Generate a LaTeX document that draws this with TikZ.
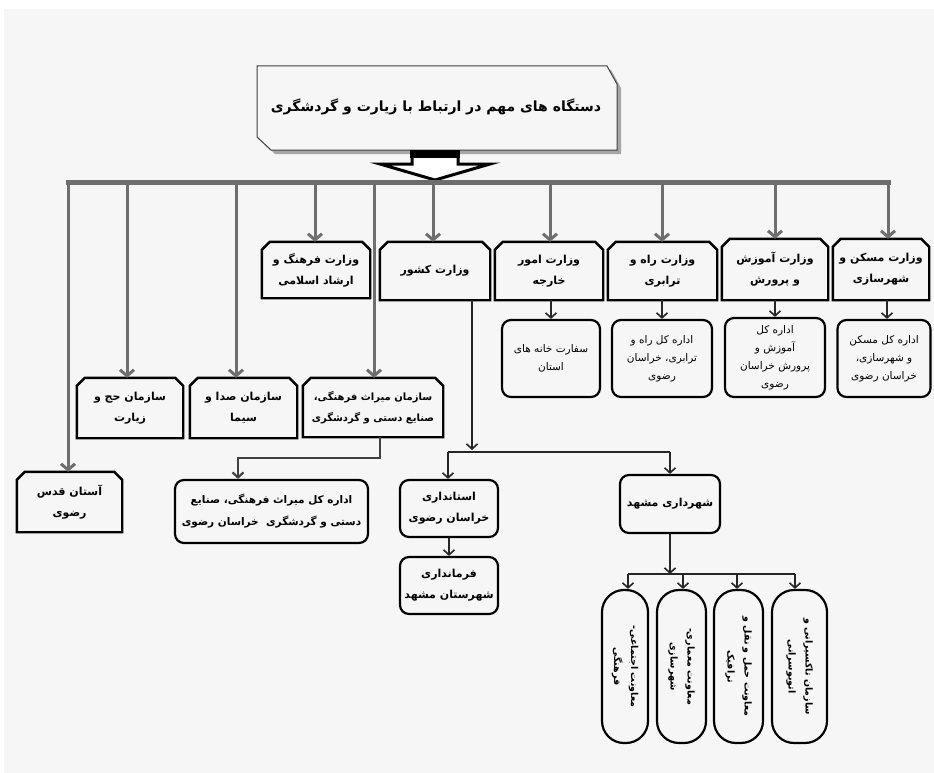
\documentclass[tikz,border=0pt]{standalone}
\usepackage{fontspec}
\newfontfamily\fafont[Script=Arabic]{DejaVu Sans}
\TeXXeTstate=1
\usetikzlibrary{arrows.meta,calc}
\newcommand\faR[1]{\beginR #1\endR}
\definecolor{bgc}{HTML}{F6F6F6}
\definecolor{linegray}{HTML}{6E6E6E}
\begin{document}
\begin{tikzpicture}[x=1pt,y=-1pt,
  bus/.style={draw=linegray, line width=5pt, line cap=rect},
  drop/.style={draw=linegray, line width=3pt, -{Straight Barb[length=6pt,width=14pt]}},
  link/.style={draw=black!85, line width=1.6pt, -{Straight Barb[length=5pt,width=11pt]}},
  plain/.style={draw=black!85, line width=1.6pt},
  btxt/.style={align=center, inner sep=0pt, font=\fafont\bfseries\fontsize{11}{21}\selectfont},
  rtxt/.style={align=center, inner sep=0pt, font=\fafont\fontsize{10.5}{18}\selectfont},
  chline/.style={draw=black, line width=2.4pt, line join=miter},
  rbox/.style={draw=black, line width=2.2pt, rounded corners=9pt},
  pill/.style={draw=black, line width=2.2pt, rounded corners=22pt, align=center, inner sep=0pt,
     font=\fafont\bfseries\fontsize{9.5}{17}\selectfont},
]
\fill[white] (0,0) rectangle (934,773);
\fill[bgc] (4,9) rectangle (934,773);
\path[use as bounding box] (0,0) rectangle (934,773);

% title shape
\fill[black!35] (261,70) -- (611,70) -- (621,88) -- (621,154) -- (275,154) -- (261,141) -- cycle;
\draw[fill=bgc, draw=black!75, line width=1pt] (257,66) -- (607,66) -- (617,84) -- (617,150) -- (271,150) -- (257,137) -- cycle;
\node[align=center, inner sep=0pt, font=\fafont\bfseries\fontsize{14}{20}\selectfont] (title) at (436,107)
  {\faR{دستگاه های مهم در ارتباط با زیارت و گردشگری}};

% block arrow
\draw[fill=white, draw=black, line width=3pt, line join=miter]
  (412,152) -- (412,164) -- (380,164) -- (435,180) -- (490,164) -- (458,164) -- (458,152) -- cycle;
\fill[black] (410,150) rectangle (460,158);

% ministries
\node[btxt, minimum width=108, minimum height=56] (farhang) at (316,270) {\faR{وزارت فرهنگ و}\\ \faR{ارشاد اسلامی}};
\node[btxt, minimum width=110, minimum height=58] (keshvar) at (435,271) {\faR{وزارت کشور}};
\node[btxt, minimum width=108, minimum height=58] (omur) at (549,271) {\faR{وزارت امور}\\ \faR{خارجه}};
\node[btxt, minimum width=109, minimum height=58] (rah) at (662.5,271) {\faR{وزارت راه و}\\ \faR{ترابری}};
\node[btxt, minimum width=106, minimum height=61] (amuzesh) at (775,269.5) {\faR{وزارت آموزش}\\ \faR{و پرورش}};
\node[btxt, minimum width=96, minimum height=61] (maskan) at (881,269.5) {\faR{وزارت مسکن و}\\ \faR{شهرسازی}};

% second row
\node[rtxt, rbox, minimum width=98, minimum height=77] (sefarat) at (551,358.5) {\faR{سفارت خانه های}\\ \faR{استان}};
\node[rtxt, rbox, minimum width=100, minimum height=77] (edrah) at (662,358.5) {\faR{اداره کل راه و}\\ \faR{ترابری، خراسان}\\ \faR{رضوی}};
\node[rtxt, rbox, minimum width=100, minimum height=79] (edamuz) at (775,357.5) {\faR{اداره کل}\\ \faR{آموزش و}\\ \faR{پرورش خراسان}\\ \faR{رضوی}};
\node[rtxt, rbox, minimum width=93, minimum height=77] (edmaskan) at (884,358.5) {\faR{اداره کل مسکن}\\ \faR{و شهرسازی،}\\ \faR{خراسان رضوی}};

% third row
\node[btxt, minimum width=106, minimum height=60] (hajj) at (130,408) {\faR{سازمان حج و}\\ \faR{زیارت}};
\node[btxt, minimum width=107, minimum height=60] (seda) at (243.5,408) {\faR{سازمان صدا و}\\ \faR{سیما}};
\node[btxt, font=\fafont\bfseries\fontsize{10}{21}\selectfont, minimum width=140, minimum height=59] (miras) at (373,407.5) {\faR{سازمان میراث فرهنگی،}\\ \faR{صنایع دستی و گردشگری}};
\node[btxt, minimum width=105, minimum height=60] (astan) at (69.5,502) {\faR{آستان قدس}\\ \faR{رضوی}};

\foreach \n in {farhang,keshvar,omur,rah,amuzesh,maskan,hajj,seda,miras,astan}
  \draw[chline] (\n.south west) -- ($(\n.north west)+(0,8)$) -- ($(\n.north west)+(8,0)$)
     -- ($(\n.north east)+(-8,0)$) -- ($(\n.north east)+(0,8)$) -- (\n.south east) -- cycle;

% lower boxes
\node[btxt, font=\fafont\bfseries\fontsize{10.5}{22}\selectfont, rbox, minimum width=193, minimum height=63] (edmiras) at (271.5,511.5) {\faR{اداره کل میراث فرهنگی، صنایع}\\ \faR{دستی و گردشگری\ \ خراسان رضوی}};
\node[btxt, rbox, minimum width=98, minimum height=57] (ostandari) at (449,508.5) {\faR{استانداری}\\ \faR{خراسان رضوی}};
\node[btxt, rbox, minimum width=98, minimum height=57] (farmandari) at (449,585.5) {\faR{فرمانداری}\\ \faR{شهرستان مشهد}};
\node[btxt, rbox, minimum width=100, minimum height=58] (shahrdari) at (670,504) {\faR{شهرداری مشهد}};

% pills
\node[pill, minimum width=153, minimum height=46, rotate=-90] (p1) at (625,666.5) {\faR{معاونت اجتماعی-}\\ \faR{فرهنگی}};
\node[pill, minimum width=153, minimum height=49, rotate=-90] (p2) at (681.5,666.5) {\faR{معاونت معماری-}\\ \faR{شهرسازی}};
\node[pill, minimum width=153, minimum height=49, rotate=-90] (p3) at (738.5,666.5) {\faR{معاونت حمل و نقل و}\\ \faR{ترافیک}};
\node[pill, minimum width=153, minimum height=55, rotate=-90] (p4) at (799.5,666.5) {\faR{سازمان تاکسیرانی و}\\ \faR{اتوبوسرانی}};

% bus and drops
\coordinate (b0) at (68,182);
\coordinate (b1) at (127,182);
\coordinate (b2) at (236,182);
\coordinate (b3) at (315,182);
\coordinate (b4) at (374,182);
\coordinate (b5) at (433,182);
\coordinate (b6) at (550,182);
\coordinate (b7) at (662,182);
\coordinate (b8) at (775,182);
\coordinate (b9) at (888,182);
\draw[bus] (b0) -- (b9);
\draw[drop] (b0) -- (b0 |- astan.north);
\draw[drop] (b1) -- (b1 |- hajj.north);
\draw[drop] (b2) -- (b2 |- seda.north);
\draw[drop] (b3) -- (b3 |- farhang.north);
\draw[drop] (b4) -- (b4 |- miras.north);
\draw[drop] (b5) -- (b5 |- keshvar.north);
\draw[drop] (b6) -- (b6 |- omur.north);
\draw[drop] (b7) -- (b7 |- rah.north);
\draw[drop] (b8) -- (b8 |- amuzesh.north);
\draw[drop] (b9) -- (b9 |- maskan.north);

% ministries to provincial offices
\draw[link] (omur.south -| sefarat.north) -- (sefarat.north);
\draw[link] (rah.south -| edrah.north) -- (edrah.north);
\draw[link] (amuzesh.south -| edamuz.north) -- (edamuz.north);
\coordinate (mk) at (887,330);
\draw[link] (maskan.south -| mk) -- (mk |- edmaskan.north);

% miras to edmiras
\coordinate (mx) at (380,458);
\coordinate (mt) at (238,458);
\draw[draw=black!75, line width=2.2pt, -{Straight Barb[length=5pt,width=11pt]}]
  (miras.south -| mx) -- (mx) -- (mt) -- (mt |- edmiras.north);

% keshvar
\coordinate (ktip) at (472,450);
\coordinate (hl) at (448,452);
\coordinate (hr) at (670,452);
\draw[link] (keshvar.south -| ktip) -- (ktip);
\draw[plain] (hl) -- (hr);
\draw[link] (hl) -- (hl |- ostandari.north);
\draw[link] (hr) -- (hr |- shahrdari.north);
\draw[link] (ostandari.south) -- (farmandari.north);

% shahrdari to pills
\coordinate (sj) at (670,574);
\coordinate (h1) at (628,574);
\coordinate (h2) at (683,574);
\coordinate (h3) at (737,574);
\coordinate (h4) at (795,574);
\draw[link] (shahrdari.south) -- (sj);
\draw[plain] (h1) -- (h4);
\draw[link] (h1) -- (h1 |- p1.west);
\draw[link] (h2) -- (h2 |- p2.west);
\draw[link] (h3) -- (h3 |- p3.west);
\draw[link] (h4) -- (h4 |- p4.west);
\end{tikzpicture}
\end{document}
